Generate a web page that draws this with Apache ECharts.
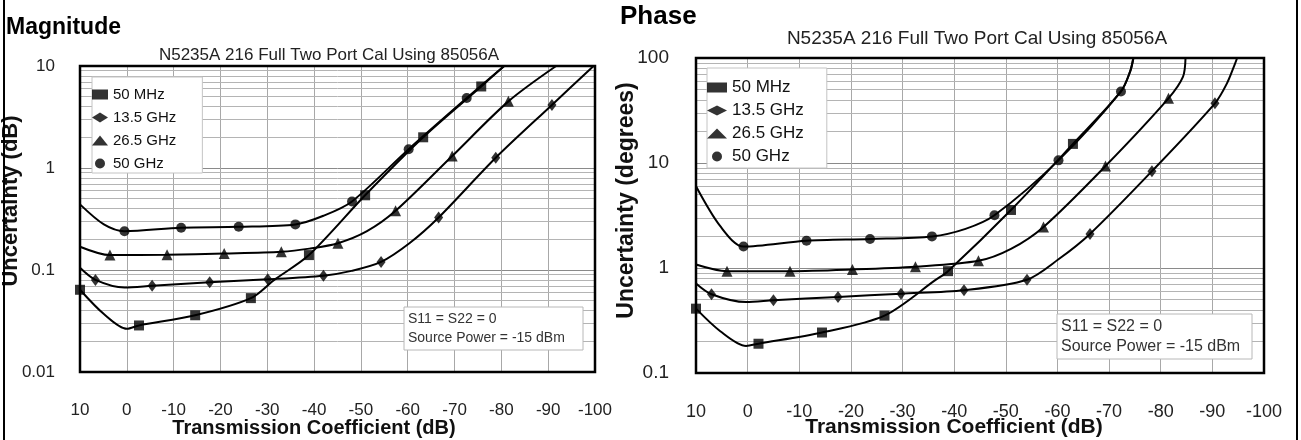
<!DOCTYPE html>
<html>
<head>
<meta charset="utf-8">
<script src="https://cdn.jsdelivr.net/npm/echarts@6/dist/echarts.min.js"></script>
<style>
  html, body { margin: 0; padding: 0; background: #fff; }
  #chart { width: 1301px; height: 440px; }
</style>
</head>
<body>
<div id="chart"></div>
<script>
const seriesNames = ["50 MHz", "13.5 GHz", "26.5 GHz", "50 GHz"];
const markerShapes = ["rect", "diamond", "triangle", "circle"];
const markerSizes = [10, [9, 12], 11, 10];
const minorSteps = [2, 3, 4, 5, 6, 7, 8, 9];
const magDecades = [0.01, 0.1, 1];
const phaseDecades = [0.1, 1, 10];

// Magnitude: [transmission dB, uncertainty dB]
const mag50MHzCurve = [[10, 0.064], [4.9, 0.037], [0, 0.0265], [-2.6, 0.0286], [-14.6, 0.036], [-26.5, 0.053], [-31.5, 0.08], [-38.9, 0.14], [-50.9, 0.54], [-63.3, 2.0], [-75.7, 6.3], [-80.6, 10]];
const mag50MHzMarks = [[10, 0.064], [-2.6, 0.0286], [-14.6, 0.036], [-26.5, 0.053], [-38.9, 0.14], [-50.9, 0.54], [-63.3, 2.0], [-75.7, 6.3]];
const mag13GHzCurve = [[10, 0.105], [6.7, 0.08], [0.5, 0.0673], [-5.4, 0.07], [-17.7, 0.076], [-30.1, 0.081], [-42, 0.088], [-48, 0.098], [-54.3, 0.12], [-60.5, 0.185], [-66.6, 0.327], [-78.8, 1.26], [-90.8, 4.15], [-99.7, 10]];
const mag13GHzMarks = [[6.7, 0.08], [-5.4, 0.07], [-17.7, 0.076], [-30.1, 0.081], [-42, 0.088], [-54.3, 0.12], [-66.6, 0.327], [-78.8, 1.26], [-90.8, 4.15]];
const mag26GHzCurve = [[10, 0.169], [3.6, 0.14], [-8.6, 0.141], [-20.8, 0.145], [-33, 0.151], [-39, 0.162], [-45.1, 0.183], [-51.3, 0.24], [-57.4, 0.38], [-69.5, 1.31], [-81.5, 4.5], [-91.7, 10]];
const mag26GHzMarks = [[3.6, 0.14], [-8.6, 0.141], [-20.8, 0.145], [-33, 0.151], [-45.1, 0.183], [-57.4, 0.38], [-69.5, 1.31], [-81.5, 4.5]];
const mag50GHzCurve = [[10, 0.44], [4.9, 0.28], [0.5, 0.24], [-11.6, 0.26], [-23.9, 0.265], [-36, 0.28], [-42, 0.34], [-48.1, 0.47], [-60.2, 1.53], [-72.6, 4.85], [-80.6, 10]];
const mag50GHzMarks = [[0.5, 0.24], [-11.6, 0.26], [-23.9, 0.265], [-36, 0.28], [-48.1, 0.47], [-60.2, 1.53], [-72.6, 4.85]];

// Phase: [transmission dB, uncertainty degrees]
const ph50MHzCurve = [[10, 0.41], [5.3, 0.25], [0.3, 0.181], [-2.1, 0.19], [-14.4, 0.243], [-26.5, 0.352], [-36.4, 0.77], [-38.8, 0.933], [-51, 3.57], [-63, 15.2], [-72.3, 48], [-74.1, 75], [-74.7, 100]];
const ph50MHzMarks = [[10, 0.41], [-2.1, 0.19], [-14.4, 0.243], [-26.5, 0.352], [-38.8, 0.933], [-51, 3.57], [-63, 15.2]];
const ph13GHzCurve = [[10, 0.713], [7, 0.563], [0.3, 0.474], [-5, 0.493], [-17.5, 0.53], [-29.7, 0.57], [-41.9, 0.615], [-54.1, 0.774], [-60.2, 1.21], [-66.3, 2.11], [-78.3, 8.36], [-90.5, 37], [-92.8, 57], [-94.3, 86], [-94.8, 100]];
const ph13GHzMarks = [[7, 0.563], [-5, 0.493], [-17.5, 0.53], [-29.7, 0.57], [-41.9, 0.615], [-54.1, 0.774], [-66.3, 2.11], [-78.3, 8.36], [-90.5, 37]];
const ph26GHzCurve = [[10, 1.08], [4, 0.933], [-8.2, 0.933], [-20.3, 0.968], [-32.5, 1.03], [-44.7, 1.17], [-51, 1.52], [-57.3, 2.46], [-69.3, 9.36], [-81.5, 41.3], [-84.3, 66], [-84.8, 100]];
const ph26GHzMarks = [[4, 0.933], [-8.2, 0.933], [-20.3, 0.968], [-32.5, 1.03], [-44.7, 1.17], [-57.3, 2.46], [-69.3, 9.36], [-81.5, 41.3]];
const ph50GHzCurve = [[10, 6], [5.3, 2.5], [0.8, 1.6], [-11.4, 1.82], [-23.7, 1.89], [-35.7, 2.0], [-42.2, 2.36], [-47.8, 3.18], [-60.2, 10.6], [-72.3, 48], [-74.1, 75], [-74.7, 100]];
const ph50GHzMarks = [[0.8, 1.6], [-11.4, 1.82], [-23.7, 1.89], [-35.7, 2.0], [-47.8, 3.18], [-60.2, 10.6], [-72.3, 48]];

const FONT = "'Liberation Sans', Arial, sans-serif";

const magCurves = [mag50MHzCurve, mag13GHzCurve, mag26GHzCurve, mag50GHzCurve];
const magMarks = [mag50MHzMarks, mag13GHzMarks, mag26GHzMarks, mag50GHzMarks];
const phCurves = [ph50MHzCurve, ph13GHzCurve, ph26GHzCurve, ph50GHzCurve];
const phMarks = [ph50MHzMarks, ph13GHzMarks, ph26GHzMarks, ph50GHzMarks];

// minor log gridlines (2..9 of each decade)
const minorLines = (decades) => {
  const out = [];
  decades.forEach((d) => minorSteps.forEach((s) => out.push({ yAxis: +(d * s).toPrecision(3) })));
  return out;
};

const buildSeries = (curves, marks, idx, decades) => {
  const list = [];
  curves.forEach((c, i) => {
    list.push({
      name: seriesNames[i] + " line " + idx,
      type: "line",
      xAxisIndex: idx,
      yAxisIndex: idx,
      data: c,
      showSymbol: false,
      smooth: 0.3,
      lineStyle: { color: "#000", width: 2 },
      z: 3,
      markLine: i === 0 ? {
        silent: true,
        symbol: ["none", "none"],
        label: { show: false },
        lineStyle: { color: "#b4b4b4", width: 1, type: "solid" },
        data: minorLines(decades),
        animation: false,
        z: 1,
      } : undefined,
    });
  });
  marks.forEach((m, i) => {
    list.push({
      name: seriesNames[i],
      type: "scatter",
      xAxisIndex: idx,
      yAxisIndex: idx,
      data: m,
      symbol: markerShapes[i],
      symbolSize: markerSizes[i],
      itemStyle: { color: "#000" },
      z: 4,
    });
  });
  return list;
};

const xAxisBase = (labelSize, margin, nameSize, nameGap, shift) => ({
  type: "value",
  min: -100,
  max: 10,
  interval: 10,
  inverse: true,
  axisLine: { show: false },
  axisTick: { show: false },
  axisLabel: { fontSize: labelSize, color: "#222", margin: margin, fontFamily: FONT, showMinLabel: true, showMaxLabel: true },
  splitLine: { show: true, lineStyle: { color: "#a8a8a8", width: 1 } },
  name: "Transmission Coefficient (dB)",
  nameLocation: "middle",
  nameGap: nameGap,
  nameMoveOverlap: false,
  nameTextStyle: { fontSize: nameSize, fontWeight: "bold", color: "#111", fontFamily: FONT, padding: [0, shift, 0, 0] },
});

const yAxisBase = (min, max, name, labelSize, margin, nameSize, nameGap, shift) => ({
  type: "log",
  logBase: 10,
  min: min,
  max: max,
  axisLine: { show: false },
  axisTick: { show: false },
  axisLabel: { fontSize: labelSize, color: "#222", margin: margin, fontFamily: FONT, formatter: (v) => String(+v.toPrecision(3)) },
  splitLine: { show: true, lineStyle: { color: "#8a8a8a", width: 1 } },
  name: name,
  nameLocation: "middle",
  nameGap: nameGap,
  nameMoveOverlap: false,
  nameTextStyle: { fontSize: nameSize, fontWeight: "bold", color: "#111", fontFamily: FONT, padding: [0, 0, 0, shift] },
});

const legendBase = (left, top, size, gap, itemWidth, padding) => ({
  orient: "vertical",
  left: left,
  top: top,
  itemWidth: itemWidth,
  itemHeight: 10,
  itemGap: gap,
  padding: padding,
  backgroundColor: "#fff",
  borderColor: "#c4c4c4",
  borderWidth: 1,
  selectedMode: false,
  textStyle: { fontSize: size, color: "#111", fontFamily: FONT },
  data: seriesNames.map((n, i) => ({ name: n, icon: markerShapes[i] })),
  z: 5,
});

const noteBox = (x, y, w, h, size, lineGap) => ([
  { type: "rect", z: 50, shape: { x: x, y: y, width: w, height: h }, style: { fill: "#fff", stroke: "#b8b8b8", lineWidth: 1 } },
  { type: "text", z: 51, x: x + 4, y: y + h / 2 - lineGap / 2, style: { text: "S11 = S22 = 0", font: size + "px " + FONT, fill: "#333", textVerticalAlign: "middle" } },
  { type: "text", z: 51, x: x + 4, y: y + h / 2 + lineGap / 2, style: { text: "Source Power = -15 dBm", font: size + "px " + FONT, fill: "#333", textVerticalAlign: "middle" } },
]);

const chart = echarts.init(document.getElementById("chart"));

const option = {
  animation: false,
  backgroundColor: "#fff",
  grid: [
    { left: 80, top: 66, width: 515, height: 306, outerBoundsMode: "none" },
    { left: 696, top: 58, width: 568, height: 315, outerBoundsMode: "none" },
  ],
  xAxis: [
    Object.assign({ gridIndex: 0 }, xAxisBase(17, 30, 20, 46, 47)),
    Object.assign({ gridIndex: 1 }, xAxisBase(18, 30, 21, 44, 52)),
  ],
  yAxis: [
    Object.assign({ gridIndex: 0 }, yAxisBase(0.01, 10, "Uncertainty (dB)", 17, 25, 22, 58, 36)),
    Object.assign({ gridIndex: 1 }, yAxisBase(0.1, 100, "Uncertainty (degrees)", 19, 27, 23, 58, 30)),
  ],
  legend: [
    legendBase(92, 77, 15, 8, 16, [10, 26, 2, 0]),
    legendBase(707, 68, 17, 6, 20, [11, 23, 3, 0]),
  ],
  series: [].concat(
    buildSeries(magCurves, magMarks, 0, magDecades),
    buildSeries(phCurves, phMarks, 1, phaseDecades)
  ),
  graphic: [].concat(
    [
      { type: "text", x: 6, y: 28, style: { text: "Magnitude", font: "bold 23px " + FONT, fill: "#000", textVerticalAlign: "middle" } },
      { type: "text", x: 620, y: 17, style: { text: "Phase", font: "bold 26px " + FONT, fill: "#000", textVerticalAlign: "middle" } },
      { type: "text", x: 329, y: 55, style: { text: "N5235A 216 Full Two Port Cal Using 85056A", font: "17px " + FONT, fill: "#222", textAlign: "center", textVerticalAlign: "middle" } },
      { type: "text", x: 977, y: 39, style: { text: "N5235A 216 Full Two Port Cal Using 85056A", font: "19px " + FONT, fill: "#222", textAlign: "center", textVerticalAlign: "middle" } },
    ],
    noteBox(404, 307, 179, 43, 14, 19),
    noteBox(1057, 314, 195, 45, 16, 20),
    [
      { type: "rect", z: 60, shape: { x: 80, y: 66, width: 515, height: 306 }, style: { fill: null, stroke: "#000", lineWidth: 2.5 } },
      { type: "rect", z: 60, shape: { x: 696, y: 58, width: 568, height: 315 }, style: { fill: null, stroke: "#000", lineWidth: 2.5 } },
      { type: "line", z: 60, shape: { x1: 4, y1: 0, x2: 4, y2: 440 }, style: { stroke: "#000", lineWidth: 2 } },
      { type: "line", z: 60, shape: { x1: 1297, y1: 0, x2: 1297, y2: 440 }, style: { stroke: "#000", lineWidth: 2 } },
    ]
  ),
};

chart.setOption(option);
</script>
</body>
</html>
